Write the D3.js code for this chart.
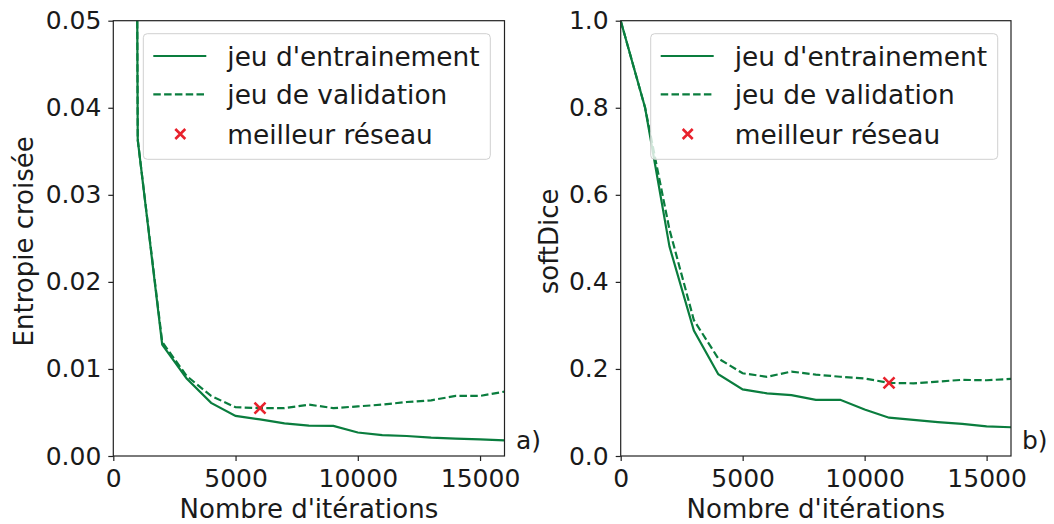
<!DOCTYPE html>
<html>
<head>
<meta charset="utf-8">
<script src="https://cdn.jsdelivr.net/npm/d3@7"></script>
<style>
  body { margin: 0; background: #fff; }
  svg text { font-family: "DejaVu Sans", sans-serif; fill: #1a1a1a; }
</style>
</head>
<body>
<div id="plot"></div>
<script>
// iterations (x)
const iters = [0, 1000, 2000, 3000, 4000, 5000, 6000, 7000, 8000, 9000, 10000, 11000, 12000, 13000, 14000, 15000, 16000]

// a) cross entropy
const ceTrain = [0.7, 0.0363, 0.0128, 0.0089, 0.0061, 0.0046, 0.0042, 0.00375, 0.0035, 0.00345, 0.0027, 0.0024, 0.0023, 0.0021, 0.0020, 0.0019, 0.0018]
const ceValid = [0.7, 0.0363, 0.0131, 0.0092, 0.0069, 0.0056, 0.0055, 0.0055, 0.0059, 0.0055, 0.0057, 0.0059, 0.0062, 0.0064, 0.0069, 0.0069, 0.0074]
const ceBest = [6000, 0.0055]

// b) softDice
const sdTrain = [1.0, 0.80, 0.481, 0.288, 0.188, 0.153, 0.144, 0.140, 0.129, 0.129, 0.107, 0.088, 0.083, 0.078, 0.074, 0.068, 0.066]
const sdValid = [1.0, 0.80, 0.52, 0.312, 0.224, 0.190, 0.182, 0.194, 0.187, 0.182, 0.178, 0.168, 0.167, 0.171, 0.175, 0.174, 0.177]
const sdBest = [11000, 0.168]

const xTicks = [0, 5000, 10000, 15000]
const ceTicks = [0, 0.01, 0.02, 0.03, 0.04, 0.05]
const sdTicks = [0, 0.2, 0.4, 0.6, 0.8, 1.0]
const legendLabels = ["jeu d'entrainement", "jeu de validation", "meilleur réseau"]

const green = '#0a7d3e'
const red = '#e8222c'
const W = 1054, H = 524
const plotTop = 20.7, plotBottom = 456

const svg = d3.select('#plot').append('svg')
  .attr('width', W)
  .attr('height', H)

function panel(id, left, right, yMax, yTicks, yFmt, train, valid, best, ylabel, ylabelX, tag, tagX) {
  const x = d3.scaleLinear().domain([0, 16000]).range([left, right])
  const y = d3.scaleLinear().domain([0, yMax]).range([plotBottom, plotTop])
  const g = svg.append('g')

  g.append('clipPath').attr('id', 'clip' + id)
    .append('rect')
    .attr('x', left).attr('y', plotTop)
    .attr('width', right - left).attr('height', plotBottom - plotTop)

  const line = d3.line()
    .x((d, i) => x(iters[i]))
    .y(d => y(d))

  const data = g.append('g').attr('clip-path', `url(#clip${id})`)
  data.append('path')
    .attr('d', line(valid))
    .attr('fill', 'none')
    .attr('stroke', green)
    .attr('stroke-width', 2.2)
    .attr('stroke-dasharray', '7.5,3.3')
  data.append('path')
    .attr('d', line(train))
    .attr('fill', 'none')
    .attr('stroke', green)
    .attr('stroke-width', 2.2)

  // best network marker
  const cross = (cx, cy, s) => `M${cx - s},${cy - s}L${cx + s},${cy + s}M${cx - s},${cy + s}L${cx + s},${cy - s}`
  g.append('path')
    .attr('d', cross(x(best[0]), y(best[1]), 5.5))
    .attr('stroke', red)
    .attr('stroke-width', 2.6)

  // axes
  const xa = g.append('g')
    .attr('transform', `translate(0,${plotBottom})`)
    .call(d3.axisBottom(x).tickValues(xTicks).tickSize(5).tickPadding(6).tickFormat(d3.format('d')))
  const ya = g.append('g')
    .attr('transform', `translate(${left},0)`)
    .call(d3.axisLeft(y).tickValues(yTicks).tickSize(5).tickPadding(7).tickFormat(d3.format(yFmt)))
  ;[xa, ya].forEach(a => {
    a.select('.domain').remove()
    a.selectAll('line').attr('stroke', '#222').attr('stroke-width', 1.2)
    a.selectAll('text').style('font-size', '25px').attr('fill', '#1a1a1a')
      .style('font-family', '"DejaVu Sans", sans-serif')
  })
  xa.selectAll('text').attr('dy', '0.8em')

  g.append('rect')
    .attr('x', left).attr('y', plotTop)
    .attr('width', right - left).attr('height', plotBottom - plotTop)
    .attr('fill', 'none')
    .attr('stroke', '#222')
    .attr('stroke-width', 1.2)

  // labels
  g.append('text')
    .attr('x', (left + right) / 2).attr('y', 518)
    .attr('text-anchor', 'middle')
    .style('font-size', '26px')
    .text("Nombre d'itérations")
  g.append('text')
    .attr('transform', `translate(${ylabelX},${(plotTop + plotBottom) / 2 + 3}) rotate(-90)`)
    .attr('text-anchor', 'middle')
    .style('font-size', '26px')
    .text(ylabel)
  g.append('text')
    .attr('x', tagX).attr('y', 449)
    .style('font-size', '25px')
    .text(tag)

  // legend
  const lx = left + 30, ly = 33.7
  const leg = g.append('g')
  leg.append('rect')
    .attr('x', lx).attr('y', ly)
    .attr('width', 347).attr('height', 125.6)
    .attr('rx', 4)
    .attr('fill', 'rgba(255,255,255,0.8)')
    .attr('stroke', '#d0d0d0')
    .attr('stroke-width', 1)
  const rows = [56, 94.3, 134]
  leg.append('line')
    .attr('x1', lx + 10).attr('x2', lx + 63)
    .attr('y1', rows[0]).attr('y2', rows[0])
    .attr('stroke', green).attr('stroke-width', 2.2)
  leg.append('line')
    .attr('x1', lx + 10).attr('x2', lx + 63)
    .attr('y1', rows[1]).attr('y2', rows[1])
    .attr('stroke', green).attr('stroke-width', 2.2)
    .attr('stroke-dasharray', '7.5,3.3')
  leg.append('path')
    .attr('d', cross(lx + 37, rows[2], 5))
    .attr('stroke', red).attr('stroke-width', 2.6)
  leg.selectAll('text.lab')
    .data(legendLabels)
    .join('text')
    .attr('class', 'lab')
    .attr('x', lx + 84)
    .attr('y', (d, i) => rows[i] + 9.5)
    .style('font-size', '26.4px')
    .text(d => d)
}

panel('a', 113.3, 504.5, 0.05, ceTicks, '.2f', ceTrain, ceValid, ceBest, 'Entropie croisée', 33, 'a)', 516)
panel('b', 620.7, 1011, 1.0, sdTicks, '.1f', sdTrain, sdValid, sdBest, 'softDice', 558, 'b)', 1022)
</script>
</body>
</html>
